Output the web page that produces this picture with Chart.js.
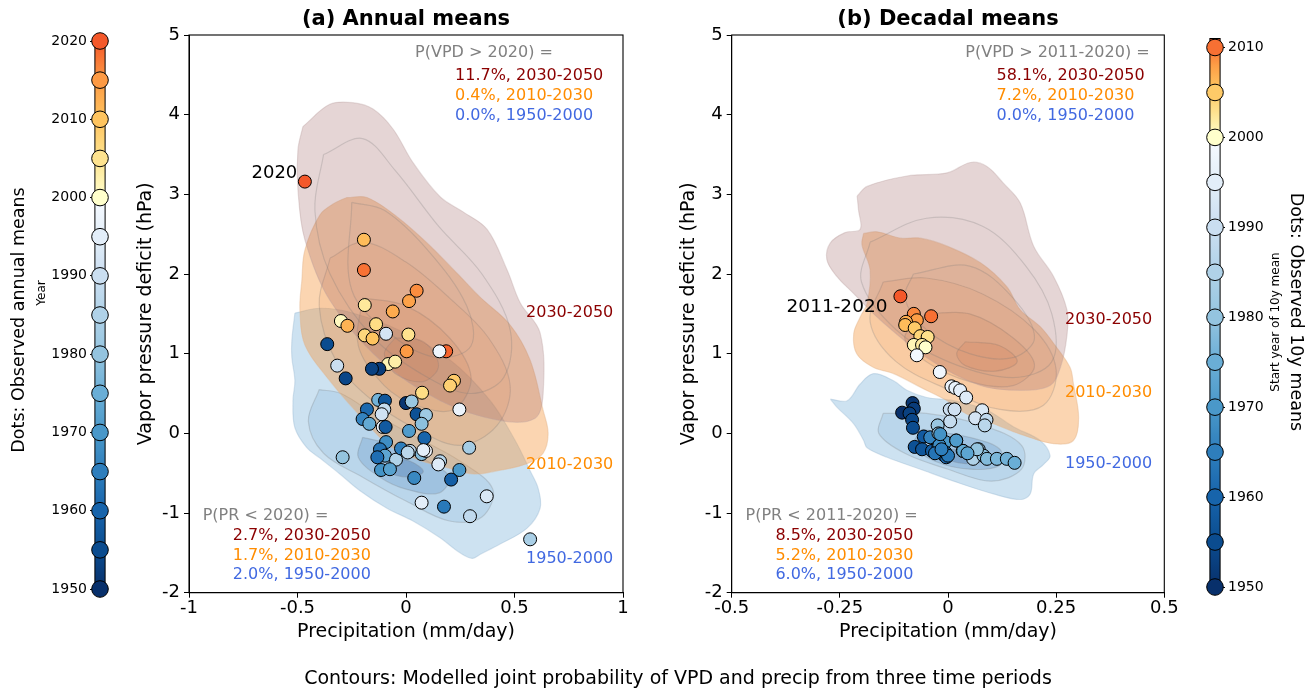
<!DOCTYPE html>
<html><head><meta charset="utf-8">
<script src="https://cdn.jsdelivr.net/npm/chart.js@4.4.0/dist/chart.umd.min.js"></script>
<style>
html,body{margin:0;padding:0;background:#fff;}
#wrap{position:relative;width:1313px;height:691px;overflow:hidden;background:#fff;}
canvas{position:absolute;left:0;top:0;}
</style></head><body>
<div id="wrap">
<canvas id="cbL" width="1313" height="691"></canvas>
<canvas id="pa" width="1313" height="691"></canvas>
<canvas id="pb" width="1313" height="691"></canvas>
<canvas id="cbR" width="1313" height="691"></canvas>
</div>
<script>
// ---------------- DATA ----------------
// Panel (a): observed annual means
const annualPr  = [-0.466,-0.194,-0.194,0.049,0.014,-0.19,-0.061,-0.30,-0.27,-0.138,-0.19,-0.154,0.011,0.003,0.185,-0.082,-0.05,0.221,0.203,0.074,
  -0.092,0.154,-0.123,-0.157,-0.363,-0.317,-0.278,0.246,-0.128,-0.097,0.0,0.026,-0.18,-0.10,-0.112,0.049,0.092,-0.20,-0.169,-0.107,-0.094,0.072,0.014,0.085,
  -0.092,-0.292,-0.12,-0.097,-0.132,-0.046,-0.023,0.018,0.008,0.072,0.092,0.08,-0.115,-0.074,0.038,0.157,0.149,0.246,0.208,0.291,0.372,0.072,0.175,0.295,0.572];
const annualVpd = [3.16,2.43,2.05,1.79,1.66,1.61,1.53,1.41,1.35,1.37,1.23,1.19,1.24,1.03,1.03,0.87,0.90,0.66,0.60,0.51,
  1.25,1.03,0.81,0.81,1.12,0.85,0.69,0.30,0.42,0.41,0.38,0.40,0.30,0.30,0.24,0.24,0.23,0.18,0.12,0.08,0.08,0.12,0.03,-0.06,
  -0.11,-0.30,-0.20,-0.28,-0.30,-0.33,-0.19,-0.22,-0.24,-0.26,-0.22,-0.21,-0.46,-0.45,-0.56,-0.35,-0.39,-0.46,-0.58,-0.18,-0.79,-0.87,-0.92,-1.04,-1.33];
const annualYear = [2020,2011,2018,2016,2014,2004,2013,2001,2012,2006,2007,2010,2005,2015,2019,2002,2003,2009,2008,2006,
  1992,1998,1952,1953,1955,1990,1954,1997,1976,1957,1951,1981,1961,1989,1991,1956,1982,1966,1974,1996,1958,1979,1971,1960,
  1968,1980,1963,1973,1962,1985,1965,1988,1987,1978,1999,1995,1969,1972,1967,1986,1994,1970,1959,1983,1993,1995,1964,1988,1984];

// Panel (b): observed 10-year means (start year)
const decadalPr  = [-0.110,-0.039,-0.079,-0.072,-0.097,-0.099,-0.077,-0.064,-0.047,-0.079,-0.060,-0.052,-0.072,-0.019,0.008,0.017,0.028,0.042,
  0.004,0.015,0.005,0.079,0.063,0.089,0.085,-0.082,-0.079,-0.106,-0.089,-0.083,-0.081,
  -0.056,-0.077,-0.060,-0.041,-0.024,-0.022,-0.037,-0.022,-0.010,-0.004,-0.006,0.019,0.034,0.052,0.058,0.071,0.082,0.090,0.113,0.136,0.154,
  -0.020,-0.006,-0.018,0.035,0.067,0.019,-0.030,0.000,-0.015,0.045];
const decadalVpd = [1.72,1.47,1.50,1.42,1.40,1.36,1.32,1.22,1.21,1.11,1.11,1.08,0.98,0.77,0.59,0.57,0.54,0.45,
  0.30,0.30,0.15,0.29,0.19,0.17,0.10,0.38,0.31,0.26,0.25,0.17,0.07,
  -0.04,-0.17,-0.20,-0.05,0.10,0.0,-0.22,-0.16,-0.27,-0.30,-0.11,-0.09,-0.22,-0.26,-0.32,-0.20,-0.28,-0.32,-0.32,-0.32,-0.37,
  -0.15,-0.24,-0.01,-0.22,-0.20,-0.09,-0.25,-0.28,-0.20,-0.25];
const decadalYear = [2011,2010,2009,2008,2007,2006,2005,2004,2003,2001,2002,2000,1999,1998,1997,1996,1995,1994,
  1990,1991,1989,1993,1992,1988,1987,1951,1952,1950,1953,1954,1955,
  1958,1956,1957,1966,1981,1982,1959,1967,1960,1961,1970,1972,1984,1986,1985,1983,1979,1978,1977,1976,1975,
  1968,1962,1969,1974,1980,1971,1963,1964,1965,1973];

// Modelled joint-probability contours (outer level + inner levels), [precip, VPD]
const aBrownOuter = [[-0.475,3.85],[-0.351,4.13],[-0.245,4.15],[-0.152,4.07],[-0.06,3.82],[0.032,3.40],[0.157,2.97],[0.263,2.78],[0.374,2.56],[0.466,2.05],[0.526,1.64],[0.618,1.26],[0.632,0.50],[0.595,0.19],[0.434,0.16],[0.157,0.41],[-0.12,0.92],[-0.351,1.67],[-0.466,2.43],[-0.498,3.06],[-0.498,3.56]];
const aBrownMid   = [[-0.38,3.5],[-0.2,3.7],[-0.05,3.3],[0.15,2.6],[0.35,2.0],[0.48,1.3],[0.45,0.7],[0.3,0.5],[0.1,0.7],[-0.15,1.2],[-0.35,2.0],[-0.42,2.8]];
const aBrownInner = [[-0.25,2.9],[-0.1,2.8],[0.1,2.3],[0.28,1.6],[0.3,1.1],[0.15,0.95],[-0.05,1.2],[-0.25,1.8]];
const aOrangeOuter = [[-0.272,2.96],[-0.18,2.96],[-0.042,2.72],[0.097,2.39],[0.235,2.01],[0.341,1.71],[0.48,1.36],[0.572,0.92],[0.632,0.29],[0.655,0.0],[0.632,-0.25],[0.558,-0.38],[0.42,-0.47],[0.309,-0.51],[0.189,-0.43],[0.065,-0.34],[-0.074,-0.16],[-0.212,0.22],[-0.351,0.66],[-0.466,1.11],[-0.489,1.55],[-0.48,1.92],[-0.466,2.30],[-0.397,2.74],[-0.328,2.89]];
const aOrangeMid   = [[-0.35,2.2],[-0.2,2.4],[0.0,2.15],[0.2,1.7],[0.38,1.2],[0.48,0.6],[0.42,0.1],[0.25,-0.15],[0.05,0.05],[-0.15,0.4],[-0.32,0.9],[-0.40,1.6]];
const aOrangeInner = [[-0.2,1.7],[0.0,1.6],[0.2,1.2],[0.3,0.7],[0.22,0.3],[0.05,0.35],[-0.1,0.6],[-0.22,1.1]];
const aOrangeCore  = [[-0.05,1.2],[0.08,1.15],[0.15,0.85],[0.08,0.65],[-0.05,0.75],[-0.1,1.0]];
const aBlueOuter = [[-0.512,1.51],[-0.526,1.17],[-0.526,0.95],[-0.512,0.66],[-0.521,0.41],[-0.512,0.07],[-0.457,-0.18],[-0.397,-0.31],[-0.305,-0.51],[-0.212,-0.72],[-0.088,-0.94],[0.032,-1.10],[0.157,-1.31],[0.249,-1.50],[0.305,-1.57],[0.341,-1.52],[0.434,-1.39],[0.558,-1.19],[0.618,-0.94],[0.609,-0.69],[0.572,-0.47],[0.503,-0.09],[0.388,0.41],[0.203,0.92],[-0.028,1.29],[-0.258,1.52],[-0.397,1.57]];
const aBlueMid   = [[-0.40,0.55],[-0.30,0.50],[-0.15,0.25],[0.05,-0.05],[0.25,-0.35],[0.40,-0.70],[0.35,-1.05],[0.20,-1.10],[0.0,-0.85],[-0.20,-0.55],[-0.38,-0.25],[-0.45,0.15]];
const aBlueInner = [[-0.20,-0.05],[-0.05,-0.15],[0.10,-0.35],[0.20,-0.55],[0.15,-0.75],[0.0,-0.70],[-0.12,-0.55],[-0.22,-0.30]];
const aBlueCore  = [[-0.08,-0.30],[0.02,-0.35],[0.08,-0.48],[0.02,-0.55],[-0.08,-0.48]];

const bBrownOuter = [[-0.21,2.98],[-0.187,3.10],[-0.095,3.23],[-0.002,3.27],[0.052,3.40],[0.09,3.35],[0.128,3.14],[0.167,2.89],[0.198,2.35],[0.244,1.97],[0.275,1.55],[0.275,1.23],[0.26,0.83],[0.236,0.60],[0.167,0.54],[0.075,0.60],[-0.041,0.92],[-0.156,1.42],[-0.219,1.76],[-0.257,1.97],[-0.28,2.18],[-0.272,2.39],[-0.238,2.52],[-0.203,2.56],[-0.207,2.81]];
const bBrownMid   = [[-0.18,2.4],[-0.05,2.7],[0.08,2.6],[0.18,2.1],[0.24,1.5],[0.24,0.9],[0.15,0.7],[0.0,0.9],[-0.12,1.3],[-0.2,1.9]];
const bBrownInner = [[-0.08,2.0],[0.05,2.1],[0.15,1.7],[0.2,1.2],[0.15,0.95],[0.05,1.0],[-0.05,1.3],[-0.1,1.7]];
const bOrangeOuter = [[-0.195,2.51],[-0.164,2.53],[-0.11,2.45],[-0.064,2.45],[-0.002,2.35],[0.075,2.14],[0.136,1.84],[0.167,1.55],[0.213,1.34],[0.244,1.13],[0.282,0.83],[0.29,0.62],[0.302,0.20],[0.29,-0.09],[0.244,-0.13],[0.167,-0.01],[0.105,0.12],[0.044,0.24],[-0.002,0.41],[-0.064,0.58],[-0.126,0.75],[-0.173,0.83],[-0.211,1.0],[-0.218,1.25],[-0.203,1.46],[-0.187,1.63],[-0.18,2.05],[-0.199,2.37]];
const bOrangeMid   = [[-0.15,1.9],[-0.05,1.95],[0.08,1.75],[0.2,1.3],[0.25,0.8],[0.22,0.35],[0.12,0.3],[0.0,0.55],[-0.12,0.9],[-0.18,1.4]];
const bOrangeInner = [[-0.05,1.5],[0.05,1.5],[0.15,1.2],[0.2,0.85],[0.15,0.6],[0.05,0.65],[-0.05,0.9],[-0.1,1.2]];
const bOrangeCore  = [[0.04,1.15],[0.12,1.1],[0.16,0.9],[0.11,0.78],[0.04,0.85],[0.02,1.0]];
const bBlueOuter = [[-0.272,0.43],[-0.233,0.41],[-0.203,0.62],[-0.172,0.75],[-0.126,0.66],[-0.095,0.54],[-0.049,0.45],[0.013,0.41],[0.09,0.29],[0.152,0.08],[0.213,-0.09],[0.236,-0.28],[0.221,-0.39],[0.198,-0.51],[0.19,-0.76],[0.167,-0.83],[0.105,-0.76],[0.013,-0.60],[-0.064,-0.45],[-0.141,-0.30],[-0.187,-0.18],[-0.195,-0.09],[-0.218,0.12],[-0.257,0.33]];
const bBlueMid   = [[-0.15,0.25],[-0.05,0.25],[0.08,0.10],[0.17,-0.15],[0.17,-0.45],[0.10,-0.60],[0.0,-0.45],[-0.10,-0.25],[-0.16,0.0]];
const bBlueInner = [[-0.06,0.05],[0.05,-0.05],[0.12,-0.2],[0.12,-0.4],[0.05,-0.45],[-0.03,-0.35],[-0.08,-0.15]];
const bBlueCore  = [[0.01,-0.2],[0.07,-0.23],[0.09,-0.33],[0.04,-0.38],[-0.01,-0.3]];

// Tick labels
const yTicks = [-2,-1,0,1,2,3,4,5];
const yTickLabels = ['-2','-1','0','1','2','3','4','5'];
const aXTicks = [-1,-0.5,0,0.5,1];
const aXTickLabels = ['-1','-0.5','0','0.5','1'];
const bXTicks = [-0.5,-0.25,0,0.25,0.5];
const bXTickLabels = ['-0.5','-0.25','0','0.25','0.5'];
const cbLeftDots = [1950,1955,1960,1965,1970,1975,1980,1985,1990,1995,2000,2005,2010,2015,2020];
const cbLeftTicks = [1950,1960,1970,1980,1990,2000,2010,2020];
const cbRightDots = [1950,1955,1960,1965,1970,1975,1980,1985,1990,1995,2000,2005,2010];
const cbRightTicks = [1950,1960,1970,1980,1990,2000,2010];

// Probability annotations
const aProbVPD = ['11.7%, 2030-2050','0.4%, 2010-2030','0.0%, 1950-2000'];
const aProbPR  = ['2.7%, 2030-2050','1.7%, 2010-2030','2.0%, 1950-2000'];
const bProbVPD = ['58.1%, 2030-2050','7.2%, 2010-2030','0.0%, 1950-2000'];
const bProbPR  = ['8.5%, 2030-2050','5.2%, 2010-2030','6.0%, 1950-2000'];

// ---------------- STYLE ----------------
const FONT = "'DejaVu Sans', 'Liberation Sans', sans-serif";
const blueStops = ['#08306b','#0b4c8f','#1764ab','#2e7ebc','#4a98c9','#6aaed6','#94c4df','#b0d2e8','#cadef0','#e3eef9','#f7fbff'];
const warmStops = ['#ffffcc','#fee38f','#fec45f','#fd9a44','#f4582a'];
function hex(h){return [parseInt(h.slice(1,3),16),parseInt(h.slice(3,5),16),parseInt(h.slice(5,7),16)];}
function interp(stops,t){
  t=Math.max(0,Math.min(1,t));
  const n=stops.length-1, p=t*n, i=Math.min(Math.floor(p),n-1), f=p-i;
  const a=hex(stops[i]), b=hex(stops[i+1]);
  return 'rgb('+a.map((v,k)=>Math.round(v+(b[k]-v)*f)).join(',')+')';
}
function yearColor(y,maxYear){
  if(y<2000) return interp(blueStops,(y-1950)/50);
  return interp(warmStops,(y-2000)/(maxYear-2000));
}
const C_GRAY='#808080', C_RED='#8b0000', C_ORANGE='#ff8c00', C_BLUE='#4169e1';

const textPlugin = {
  id:'texts',
  afterDraw(chart,args,opts){
    const ctx=chart.ctx;
    (opts.items||[]).forEach(it=>{
      let x=it.x,y=it.y;
      if(it.data){x=chart.scales.x.getPixelForValue(it.x); y=chart.scales.y.getPixelForValue(it.y);}
      ctx.save();
      ctx.font=it.font; ctx.fillStyle=it.color||'#000';
      ctx.textAlign=it.align||'left'; ctx.textBaseline='middle';
      ctx.translate(x,y); if(it.rot) ctx.rotate(it.rot);
      ctx.fillText(it.text,0,0); ctx.restore();
    });
  }
};
const framePlugin = {
  id:'frame',
  afterDraw(chart,args,opts){
    if(!opts.on) return;
    const {left,top,right,bottom}=chart.chartArea, ctx=chart.ctx;
    ctx.save(); ctx.strokeStyle='#000'; ctx.lineWidth=1.1;
    ctx.strokeRect(left,top,right-left,bottom-top); ctx.restore();
  }
};
const cbarPlugin = {
  id:'cbar',
  beforeDatasetsDraw(chart,args,o){
    if(!o.on) return;
    const ctx=chart.ctx, ys=chart.scales.y, xs=chart.scales.x;
    const x0=xs.getPixelForValue(-o.half), x1=xs.getPixelForValue(o.half);
    const yT=ys.getPixelForValue(o.max), yB=ys.getPixelForValue(o.min);
    const g=ctx.createLinearGradient(0,yB,0,yT);
    for(let y=o.min;y<=o.max;y++) g.addColorStop((y-o.min)/(o.max-o.min),yearColor(y,o.max));
    ctx.save(); ctx.fillStyle=g; ctx.fillRect(x0,yT,x1-x0,yB-yT);
    ctx.strokeStyle='#000'; ctx.lineWidth=1; ctx.strokeRect(x0,yT,x1-x0,yB-yT); ctx.restore();
  }
};

function poly(pts,fill,order,line){
  const d=pts.map(p=>({x:p[0],y:p[1]})); d.push({x:pts[0][0],y:pts[0][1]});
  return {data:d,showLine:true,fill:'shape',backgroundColor:fill,borderColor:line||'rgba(120,120,120,0.25)',
    borderWidth:1.2,pointRadius:0,tension:0.35,order:order,clip:true};
}
function dots(pr,vpd,yr,maxYear){
  return {data:pr.map((x,i)=>({x:x,y:vpd[i]})),pointRadius:6.5,pointBorderWidth:1,pointBorderColor:'#000',
    pointBackgroundColor:yr.map(y=>yearColor(y,maxYear)),showLine:false,order:0,clip:false};
}
function contourSets(br,or,bl){
  const s=[];
  // blue (bottom)
  s.push(poly(bl[0],'rgba(90,160,210,0.30)',60,'rgba(150,180,205,0.35)'));
  s.push(poly(bl[1],'rgba(70,140,200,0.14)',59));
  s.push(poly(bl[2],'rgba(50,115,180,0.20)',58));
  s.push(poly(bl[3],'rgba(30,85,150,0.25)',57));
  // orange
  s.push(poly(or[0],'rgba(245,150,60,0.40)',50,'rgba(225,180,140,0.4)'));
  s.push(poly(or[1],'rgba(230,130,60,0.13)',49));
  s.push(poly(or[2],'rgba(225,120,50,0.14)',48));
  s.push(poly(or[3],'rgba(225,110,40,0.15)',47));
  // brown (top)
  s.push(poly(br[0],'rgba(160,100,100,0.27)',40,'rgba(185,160,160,0.35)'));
  s.push(poly(br[1],'rgba(170,110,100,0.02)',39));
  s.push(poly(br[2],'rgba(170,110,100,0.02)',38));
  return s;
}
const TICKF = 18, TITLEF = 19;
function panel(id,padL,padR,xMin,xMax,xTicks,xLabels,sets,texts){
  return new Chart(document.getElementById(id),{
    type:'scatter',
    data:{datasets:sets},
    plugins:[textPlugin,framePlugin],
    options:{
      responsive:false,animation:false,events:[],
      layout:{padding:{left:padL,right:padR,top:35,bottom:47.3}},
      plugins:{legend:{display:false},tooltip:{enabled:false},title:{display:false},
        texts:{items:texts},frame:{on:true}},
      scales:{
        x:{type:'linear',min:xMin,max:xMax,
          afterFit(s){s.height=51;},
          afterBuildTicks(s){s.ticks=xTicks.map(v=>({value:v}));},
          ticks:{autoSkip:false,maxRotation:0,padding:0,color:'#000',font:{family:FONT,size:TICKF},
            callback:(v)=>{const i=xTicks.indexOf(v);return i>=0?xLabels[i]:'';}},
          grid:{display:true,drawOnChartArea:false,drawTicks:true,tickLength:5,color:'#000',lineWidth:1},
          border:{display:true,color:'#000',width:1},
          title:{display:true,text:'Precipitation (mm/day)',color:'#000',font:{family:FONT,size:TITLEF},padding:{top:0,bottom:0}}},
        y:{type:'linear',min:-2,max:5,
          afterFit(s){s.width=54;},
          afterBuildTicks(s){s.ticks=yTicks.map(v=>({value:v}));},
          ticks:{autoSkip:false,padding:4,color:'#000',font:{family:FONT,size:TICKF},
            callback:(v)=>{const i=yTicks.indexOf(v);return i>=0?yTickLabels[i]:'';}},
          grid:{display:true,drawOnChartArea:false,drawTicks:true,tickLength:5,color:'#000',lineWidth:1},
          border:{display:true,color:'#000',width:1},
          title:{display:true,text:'Vapor pressure deficit (hPa)',color:'#000',font:{family:FONT,size:TITLEF},padding:{top:0,bottom:0}}}
      }
    }
  });
}
const F16=`16px ${FONT}`;
function probTexts(xT,xV,title,vpd,prTitle,pr,xPT,xPV){
  const t=[];
  t.push({data:true,x:xT,y:4.78,text:title,color:C_GRAY,font:F16});
  const cols=[C_RED,C_ORANGE,C_BLUE], ys=[4.49,4.235,3.98], yp=[-1.29,-1.535,-1.78];
  vpd.forEach((s,i)=>t.push({data:true,x:xV,y:ys[i],text:s,color:cols[i],font:F16}));
  t.push({data:true,x:xPT,y:-1.04,text:prTitle,color:C_GRAY,font:F16});
  pr.forEach((s,i)=>t.push({data:true,x:xPV,y:yp[i],text:s,color:cols[i],font:F16}));
  return t;
}

// Panel (a)
const aTexts = probTexts(0.042,0.226,'P(VPD > 2020) =',aProbVPD,'P(PR < 2020) =',aProbPR,-0.937,-0.798).concat([
  {x:406,y:20,text:'(a) Annual means',font:`bold 21px ${FONT}`,align:'center'},
  {data:true,x:annualPr[0]-0.035,y:annualVpd[0]+0.1,text:'2020',font:`18px ${FONT}`,align:'right'},
  {data:true,x:0.955,y:1.51,text:'2030-2050',color:C_RED,font:F16,align:'right'},
  {data:true,x:0.955,y:-0.39,text:'2010-2030',color:C_ORANGE,font:F16,align:'right'},
  {data:true,x:0.955,y:-1.58,text:'1950-2000',color:C_BLUE,font:F16,align:'right'},
  {x:678,y:679,text:'Contours: Modelled joint probability of VPD and precip from three time periods',font:`19px ${FONT}`,align:'center'}
]);
panel('pa',135,690,-1,1,aXTicks,aXTickLabels,
  [dots(annualPr,annualVpd,annualYear,2020)].concat(contourSets(
    [aBrownOuter,aBrownMid,aBrownInner],[aOrangeOuter,aOrangeMid,aOrangeInner,aOrangeCore],[aBlueOuter,aBlueMid,aBlueInner,aBlueCore])),
  aTexts);

// Panel (b)
const bTexts = probTexts(0.04,0.112,'P(VPD > 2011-2020) =',bProbVPD,'P(PR < 2011-2020) =',bProbPR,-0.468,-0.399).concat([
  {x:948,y:20,text:'(b) Decadal means',font:`bold 21px ${FONT}`,align:'center'},
  {data:true,x:decadalPr[0]-0.03,y:decadalVpd[0]-0.14,text:'2011-2020',font:`18.5px ${FONT}`,align:'right'},
  {data:true,x:0.472,y:1.42,text:'2030-2050',color:C_RED,font:F16,align:'right'},
  {data:true,x:0.472,y:0.51,text:'2010-2030',color:C_ORANGE,font:F16,align:'right'},
  {data:true,x:0.472,y:-0.38,text:'1950-2000',color:C_BLUE,font:F16,align:'right'}
]);
panel('pb',677.7,148.7,-0.5,0.5,bXTicks,bXTickLabels,
  [dots(decadalPr,decadalVpd,decadalYear,2011)].concat(contourSets(
    [bBrownOuter,bBrownMid,bBrownInner],[bOrangeOuter,bOrangeMid,bOrangeInner,bOrangeCore],[bBlueOuter,bBlueMid,bBlueInner,bBlueCore])),
  bTexts);

// Colorbars
function colorbar(id,pad,pos,minY,maxY,dotYears,tickYears,texts){
  return new Chart(document.getElementById(id),{
    type:'scatter',
    data:{datasets:[{data:dotYears.map(y=>({x:0,y:y})),pointRadius:8.3,pointBorderWidth:1,pointBorderColor:'#000',
      pointBackgroundColor:dotYears.map(y=>yearColor(y,maxY)),clip:false}]},
    plugins:[cbarPlugin,textPlugin],
    options:{
      responsive:false,animation:false,events:[],
      layout:{padding:pad},
      plugins:{legend:{display:false},tooltip:{enabled:false},cbar:{on:true,min:minY,max:maxY,half:0.85},texts:{items:texts}},
      scales:{
        x:{type:'linear',min:-1,max:1,display:false},
        y:{type:'linear',position:pos,min:minY,max:maxY,
          afterFit(s){s.width=60;},
          afterBuildTicks(s){s.ticks=tickYears.map(v=>({value:v}));},
          ticks:{autoSkip:false,padding:3,color:'#000',font:{family:FONT,size:14},callback:v=>String(v)},
          grid:{display:true,drawOnChartArea:false,drawTicks:true,tickLength:4,color:'#000',lineWidth:1},
          border:{display:false}}
      }
    }
  });
}
colorbar('cbL',{left:34,right:1313-106,top:41,bottom:691-589},'left',1950,2020,cbLeftDots,cbLeftTicks,[
  {x:19,y:320,text:'Dots: Observed annual means',font:`17.5px ${FONT}`,align:'center',rot:-Math.PI/2},
  {x:42,y:293,text:'Year',font:`12px ${FONT}`,align:'center',rot:-Math.PI/2}
]);
colorbar('cbR',{left:1209,right:1313-1221-60,top:38.5,bottom:691-587},'right',1950,2011,cbRightDots,cbRightTicks,[
  {x:1296,y:312,text:'Dots: Observed 10y means',font:`17.5px ${FONT}`,align:'center',rot:Math.PI/2},
  {x:1276,y:322,text:'Start year of 10y mean',font:`12px ${FONT}`,align:'center',rot:-Math.PI/2}
]);
</script>
</body></html>
